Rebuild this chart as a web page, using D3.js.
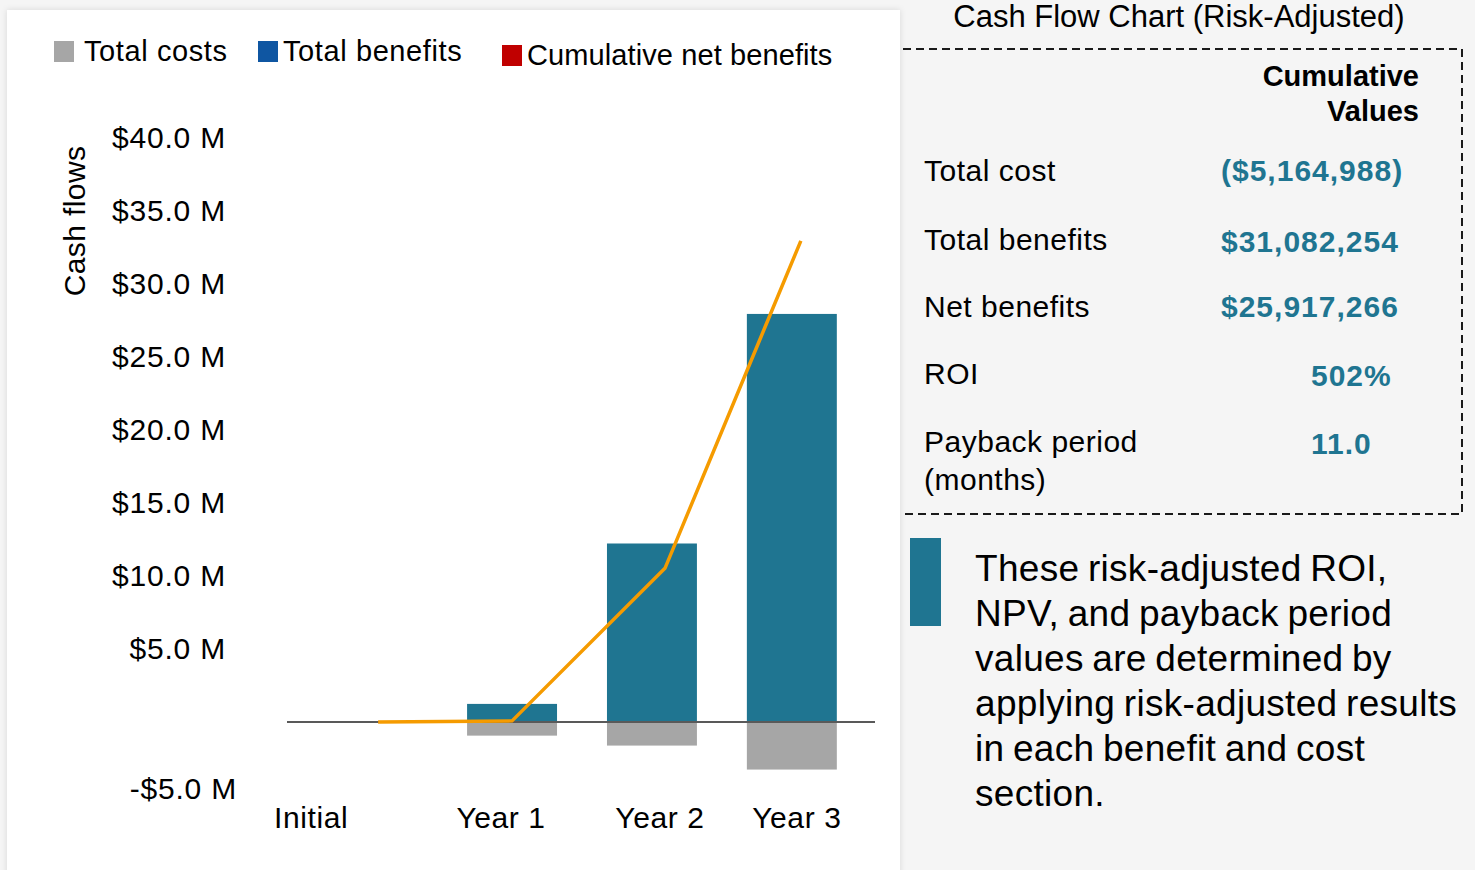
<!DOCTYPE html>
<html>
<head>
<meta charset="utf-8">
<script src="https://cdn.jsdelivr.net/npm/d3@7"></script>
<style>
  body { margin: 0; background: #f5f5f5; }
  svg { display: block; font-family: "Liberation Sans", Arial, sans-serif; }
</style>
</head>
<body>
<svg width="1475" height="870"></svg>
<script>
// values (millions of dollars)
var periods = ["Initial", "Year 1", "Year 2", "Year 3"];
var costs = [0, -0.94, -1.62, -3.26];
var benefits = [0, 1.23, 12.2, 27.9];
var cumulative = [0, 0.07, 10.5, 32.9];
var yTicks = [-5, 5, 10, 15, 20, 25, 30, 35, 40];

var legendItems = ["Total costs", "Total benefits", "Cumulative net benefits"];
var legendColors = ["#a6a6a6", "#0f56a2", "#c00000"];

var summaryLabels = [["Total cost"], ["Total benefits"], ["Net benefits"], ["ROI"], ["Payback period", "(months)"]];
var summaryValues = ["($5,164,988)", "$31,082,254", "$25,917,266", "502%", "11.0"];

var noteLines = ["These risk-adjusted ROI,", "NPV, and payback period", "values are determined by",
  "applying risk-adjusted results", "in each benefit and cost", "section."];

var teal = "#1f7591";
var svg = d3.select("svg");

// white chart panel with a soft shadow
var defs = svg.append("defs");
var f = defs.append("filter").attr("id", "shadow").attr("x", "-5%").attr("y", "-5%").attr("width", "110%").attr("height", "110%");
f.append("feDropShadow").attr("dx", 0).attr("dy", 0).attr("stdDeviation", 3)
  .attr("flood-color", "#000").attr("flood-opacity", 0.12);

// dashed summary box (top, right, bottom)
svg.append("path")
  .attr("d", "M903,49 H1462 V514 H903")
  .attr("fill", "none").attr("stroke", "#1a1a1a").attr("stroke-width", 2)
  .attr("stroke-dasharray", "8,5");

svg.append("rect")
  .attr("x", 7).attr("y", 10).attr("width", 893).attr("height", 880)
  .attr("fill", "#fff").attr("filter", "url(#shadow)");

var x = d3.scaleBand().domain(periods).range([302, 862]).paddingInner(0.357).paddingOuter(0.18);
var y = d3.scaleLinear().domain([-5, 40]).range([795, 137]);

// y tick labels
svg.append("g").selectAll("text")
  .data(yTicks).enter().append("text")
  .attr("x", function(d) { return d < 0 ? 237 : 226; })
  .attr("y", function(d) { return y(d) - (d < 0 ? 7 : 0); })
  .attr("dy", "0.35em")
  .attr("text-anchor", "end")
  .style("font-size", "30px").style("letter-spacing", "0.8px").style("fill", "#000")
  .text(function(d) { return (d < 0 ? "-$" : "$") + Math.abs(d).toFixed(1) + " M"; });

svg.append("text")
  .attr("transform", "translate(85,221) rotate(-90)")
  .attr("text-anchor", "middle")
  .style("font-size", "30px").style("letter-spacing", "0.4px")
  .text("Cash flows");

// bars
svg.append("g").selectAll("rect")
  .data(periods).enter().append("rect")
  .attr("x", function(d) { return x(d); })
  .attr("width", x.bandwidth())
  .attr("y", function(d, i) { return y(benefits[i]); })
  .attr("height", function(d, i) { return y(0) - y(benefits[i]); })
  .attr("fill", teal);

svg.append("g").selectAll("rect")
  .data(periods).enter().append("rect")
  .attr("x", function(d) { return x(d); })
  .attr("width", x.bandwidth())
  .attr("y", y(0))
  .attr("height", function(d, i) { return y(costs[i]) - y(0); })
  .attr("fill", "#a6a6a6");

// zero line
svg.append("line")
  .attr("x1", 287).attr("x2", 875)
  .attr("y1", y(0)).attr("y2", y(0))
  .attr("stroke", "#595959").attr("stroke-width", 2);

// cumulative net benefits line (drawn slightly off the bar centres, as in the original)
var lineShift = [6, 0, 13, 9];
var line = d3.line()
  .x(function(d, i) { return x(periods[i]) + x.bandwidth() / 2 + lineShift[i]; })
  .y(function(d) { return y(d); });

svg.append("path")
  .datum(cumulative)
  .attr("d", line)
  .attr("fill", "none")
  .attr("stroke", "#f59b00")
  .attr("stroke-width", 3.5);

// x labels
var labelShift = [-61, -11, 8, 5];
svg.append("g").selectAll("text")
  .data(periods).enter().append("text")
  .attr("x", function(d, i) { return x(d) + x.bandwidth() / 2 + labelShift[i]; })
  .attr("y", 828)
  .attr("text-anchor", "middle")
  .style("font-size", "30px").style("letter-spacing", "0.6px")
  .text(function(d) { return d; });

// legend
var legendX = [54, 258, 502];
var legendY = [62, 62, 66];
var leg = svg.append("g").selectAll("g")
  .data(legendItems).enter().append("g");
leg.append("rect")
  .attr("x", function(d, i) { return legendX[i]; })
  .attr("y", function(d, i) { return legendY[i] - 21; })
  .attr("width", 20).attr("height", 21)
  .attr("fill", function(d, i) { return legendColors[i]; });
leg.append("text")
  .attr("x", function(d, i) { return legendX[i] + (i === 0 ? 30 : 25); })
  .attr("y", function(d, i) { return legendY[i] - 1; })
  .style("font-size", "29px")
  .style("letter-spacing", function(d, i) { return i === 2 ? "0.1px" : "0.6px"; })
  .text(function(d) { return d; });

// right side: title and summary table
svg.append("text")
  .attr("x", 1179).attr("y", 27)
  .attr("text-anchor", "middle")
  .style("font-size", "31px")
  .text("Cash Flow Chart (Risk-Adjusted)");

svg.append("text")
  .attr("x", 1419).attr("y", 86)
  .attr("text-anchor", "end")
  .style("font-size", "29px").style("font-weight", "bold")
  .text("Cumulative");
svg.append("text")
  .attr("x", 1419).attr("y", 121)
  .attr("text-anchor", "end")
  .style("font-size", "29px").style("font-weight", "bold")
  .text("Values");

var rowY = [181, 250, 317, 384, 452];
summaryLabels.forEach(function(lines, i) {
  lines.forEach(function(t, j) {
    svg.append("text")
      .attr("x", 924).attr("y", rowY[i] + j * 38)
      .style("font-size", "30px").style("letter-spacing", "0.5px")
      .text(t);
  });
  var v = summaryValues[i];
  var long = v.length > 6;
  svg.append("text")
    .attr("x", long ? 1221 : 1311)
    .attr("y", rowY[i] + (i === 0 || i === 2 ? 0 : 2))
    .style("font-size", "30px").style("font-weight", "bold")
    .style("letter-spacing", "1px")
    .style("fill", teal)
    .text(v);
});

// note with teal marker
svg.append("rect")
  .attr("x", 910).attr("y", 538).attr("width", 31).attr("height", 88)
  .attr("fill", teal);

svg.append("g").selectAll("text")
  .data(noteLines).enter().append("text")
  .attr("x", 975)
  .attr("y", function(d, i) { return 581 + i * 45; })
  .style("font-size", "37px")
  .style("letter-spacing", "0.3px")
  .style("word-spacing", "-2px")
  .text(function(d) { return d; });
</script>
</body>
</html>
